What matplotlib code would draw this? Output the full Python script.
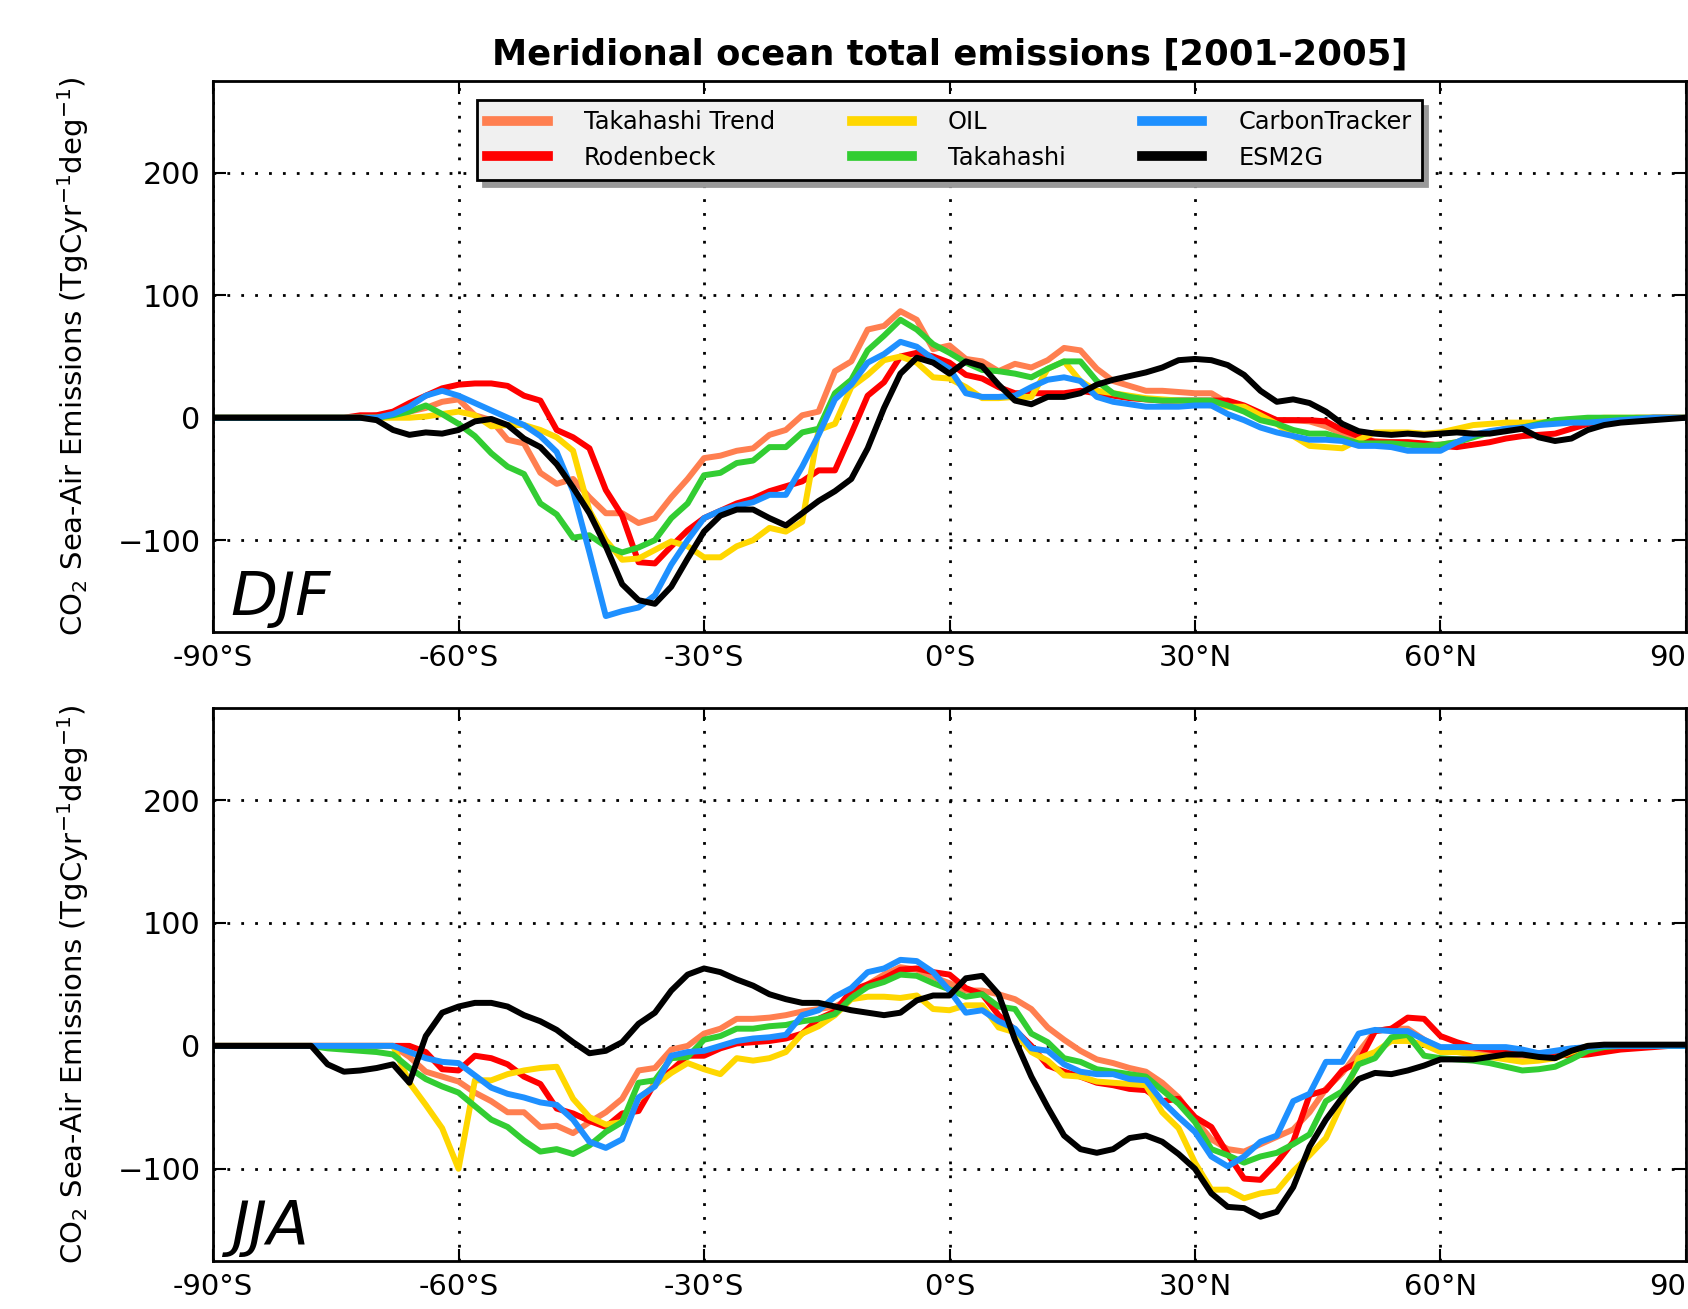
import numpy as np
import matplotlib
matplotlib.use("Agg")
import matplotlib.pyplot as plt

# latitude grid shared by all series (2 degree bins)
lat = np.arange(-90, 91, 2)

# DJF emissions (TgC/yr/deg)
djf_tak_trend = [
    0, 0, 0, 0, 0, 0, 0, 0, 0, 0,
    2, 3, 5, 8, 13, 15, 2, -2, -18, -21,
    -45, -54, -50, -65, -78, -78, -86, -82, -65, -50,
    -33, -31, -27, -25, -14, -10, 2, 5, 38, 46,
    72, 75, 87, 80, 56, 59, 48, 46, 38, 44,
    41, 47, 57, 55, 40, 30, 26, 22, 22, 21,
    20, 20, 12, 6, 2, -2, -2, -3, -7, -13,
    -17, -19, -20, -20, -22, -22, -20, -15, -12, -9,
    -7, -5, -4, -3, -2, -1, -1, 0, 0, 0,
    0]
djf_rodenbeck = [
    0, 0, 0, 0, 0, 0, 0, 0, 0, 2,
    2, 5, 12, 18, 24, 27, 28, 28, 26, 18,
    14, -10, -16, -25, -59, -80, -118, -119, -105, -92,
    -82, -76, -70, -66, -60, -56, -52, -43, -43, -13,
    18, 29, 50, 53, 50, 45, 35, 32, 25, 20,
    20, 20, 20, 22, 20, 18, 16, 15, 14, 14,
    14, 14, 14, 10, 4, -2, -2, -2, -3, -10,
    -15, -20, -20, -20, -21, -23, -24, -22, -20, -17,
    -15, -14, -13, -9, -5, -3, -2, -1, 0, 0,
    0]
djf_oil = [
    0, 0, 0, 0, 0, 0, 0, 0, 0, 0,
    0, 0, 0, 1, 3, 5, 2, -7, -6, -6,
    -10, -16, -27, -76, -100, -116, -115, -108, -101, -105,
    -114, -114, -105, -100, -90, -93, -85, -10, -5, 25,
    35, 47, 50, 45, 33, 32, 25, 16, 16, 17,
    17, 40, 46, 30, 22, 20, 18, 16, 15, 14,
    12, 10, 9, 9, 2, -5, -15, -23, -24, -25,
    -18, -12, -12, -12, -13, -12, -9, -6, -5, -4,
    -4, -4, -3, -1, -1, 0, 0, 0, 0, 0,
    0]
djf_takahashi = [
    0, 0, 0, 0, 0, 0, 0, 0, 0, 0,
    0, 2, 5, 10, 3, -5, -15, -29, -40, -46,
    -70, -79, -98, -96, -105, -110, -106, -100, -82, -70,
    -47, -45, -37, -35, -24, -24, -12, -9, 20, 31,
    55, 67, 80, 72, 60, 53, 45, 39, 38, 36,
    33, 40, 46, 46, 30, 20, 17, 15, 14, 14,
    14, 14, 10, 5, -2, -5, -10, -13, -13, -17,
    -21, -21, -21, -22, -23, -22, -20, -16, -12, -10,
    -8, -5, -2, -1, 0, 0, 0, 0, 0, 0,
    0]
djf_carbontracker = [
    0, 0, 0, 0, 0, 0, 0, 0, 0, 0,
    0, 3, 9, 18, 22, 18, 12, 6, 0, -6,
    -15, -28, -60, -110, -162, -158, -155, -145, -120, -100,
    -82, -76, -72, -69, -63, -63, -40, -14, 15, 27,
    45, 52, 62, 58, 48, 40, 20, 17, 17, 18,
    25, 31, 33, 30, 17, 13, 11, 9, 9, 9,
    10, 10, 3, -2, -8, -12, -15, -18, -18, -19,
    -23, -23, -24, -27, -27, -27, -20, -14, -11, -9,
    -8, -6, -5, -4, -4, -3, -2, -1, 0, 0,
    0]
djf_esm2g = [
    0, 0, 0, 0, 0, 0, 0, 0, 0, 0,
    -2, -10, -14, -12, -13, -10, -3, -1, -6, -17,
    -24, -38, -57, -78, -105, -136, -149, -152, -138, -115,
    -93, -80, -75, -75, -82, -88, -78, -68, -60, -50,
    -25, 8, 36, 49, 45, 36, 46, 42, 27, 14,
    11, 17, 17, 20, 27, 31, 34, 37, 41, 47,
    48, 47, 43, 35, 22, 13, 15, 12, 5, -5,
    -11, -13, -14, -13, -14, -13, -12, -13, -13, -11,
    -9, -16, -19, -17, -10, -6, -4, -3, -2, -1,
    0]

# JJA emissions (TgC/yr/deg)
jja_tak_trend = [
    0, 0, 0, 0, 0, 0, 0, 0, 0, 0,
    0, 0, -9, -21, -25, -29, -38, -45, -54, -54,
    -66, -65, -71, -62, -54, -43, -20, -18, -3, 0,
    10, 14, 22, 22, 23, 25, 28, 30, 32, 39,
    50, 58, 64, 62, 56, 51, 45, 45, 42, 38,
    30, 15, 5, -4, -11, -14, -18, -21, -30, -42,
    -60, -76, -84, -86, -80, -74, -68, -54, -35, -22,
    -5, 12, 14, 14, 5, -2, -4, -5, -6, -8,
    -8, -9, -8, -6, -3, -1, 0, 0, 0, 0,
    0]
jja_rodenbeck = [
    0, 0, 0, 0, 0, 0, 0, 0, 0, 0,
    0, 0, 0, -5, -19, -20, -8, -10, -15, -25,
    -31, -51, -55, -61, -66, -55, -53, -30, -20, -8,
    -8, -2, 2, 3, 4, 6, 10, 22, 28, 45,
    50, 55, 62, 63, 60, 58, 47, 42, 25, 13,
    0, -16, -21, -25, -30, -32, -35, -36, -45, -43,
    -58, -66, -88, -108, -109, -95, -78, -40, -36, -20,
    -13, 12, 14, 23, 22, 8, 3, -1, -3, -5,
    -6, -6, -7, -8, -7, -5, -3, -2, -1, 0,
    0]
jja_oil = [
    0, 0, 0, 0, 0, 0, 0, 0, 0, 0,
    0, 0, -30, -48, -67, -100, -28, -28, -23, -20,
    -18, -17, -43, -58, -64, -62, -43, -32, -22, -14,
    -19, -23, -10, -12, -10, -5, 10, 16, 25, 38,
    40, 40, 39, 41, 30, 29, 33, 33, 15, 11,
    -5, -12, -24, -25, -29, -30, -31, -32, -54, -67,
    -95, -117, -117, -124, -120, -118, -102, -89, -75, -46,
    -10, -5, 4, 4, 1, -5, -5, -7, -9, -11,
    -13, -12, -10, -5, 0, 0, 0, 0, 0, 0,
    0]
jja_takahashi = [
    0, 0, 0, 0, 0, 0, 0, -2, -3, -4,
    -5, -7, -18, -27, -33, -38, -49, -60, -66, -77,
    -86, -84, -88, -81, -70, -62, -30, -28, -10, -9,
    5, 8, 14, 14, 16, 17, 20, 22, 26, 39,
    48, 52, 58, 57, 51, 46, 40, 42, 32, 30,
    10, 3, -10, -13, -19, -21, -23, -25, -36, -47,
    -62, -84, -89, -95, -90, -87, -80, -72, -45, -37,
    -15, -10, 7, 9, -8, -10, -11, -12, -14, -17,
    -20, -19, -17, -11, -4, -1, 0, 0, 0, 0,
    0]
jja_carbontracker = [
    0, 0, 0, 0, 0, 0, 0, 0, 0, 0,
    0, 0, -5, -10, -13, -14, -24, -34, -39, -42,
    -46, -48, -60, -78, -83, -76, -42, -33, -8, -5,
    -4, 0, 4, 6, 7, 9, 25, 29, 40, 47,
    60, 63, 70, 69, 60, 45, 27, 29, 20, 14,
    -2, -4, -15, -21, -23, -23, -27, -28, -45, -58,
    -70, -90, -98, -90, -78, -73, -45, -39, -13, -13,
    10, 13, 12, 12, 5, -1, -1, -1, -1, -1,
    -3, -6, -4, -2, -1, 0, 0, 0, 0, 0,
    0]
jja_esm2g = [
    0, 0, 0, 0, 0, 0, 0, -15, -21, -20,
    -18, -15, -30, 8, 27, 32, 35, 35, 32, 25,
    20, 13, 3, -6, -4, 3, 18, 27, 45, 58,
    63, 60, 54, 49, 42, 38, 35, 35, 32, 29,
    27, 25, 27, 37, 41, 41, 55, 57, 42, 5,
    -25, -50, -73, -84, -87, -84, -75, -73, -78, -88,
    -100, -120, -131, -132, -139, -135, -115, -82, -60, -42,
    -27, -22, -23, -20, -16, -11, -11, -11, -9, -7,
    -7, -9, -10, -4, 0, 1, 1, 1, 1, 1,
    1]

names = ["Takahashi Trend", "Rodenbeck", "OIL", "Takahashi", "CarbonTracker", "ESM2G"]
colors = ["#FF7F50", "#FF0000", "#FFD700", "#32CD32", "#1E90FF", "#000000"]

seasons = [
    ("DJF", [djf_tak_trend, djf_rodenbeck, djf_oil, djf_takahashi, djf_carbontracker, djf_esm2g]),
    ("JJA", [jja_tak_trend, jja_rodenbeck, jja_oil, jja_takahashi, jja_carbontracker, jja_esm2g]),
]

xticks = [-90, -60, -30, 0, 30, 60, 90]
xticklabels = ["-90°S", "-60°S", "-30°S", "0°S", "30°N", "60°N", "90°N"]

fig = plt.figure(figsize=(16.88, 13.09), dpi=100)
axes = [fig.add_axes([0.1262, 0.5172, 0.8726, 0.4209]),
        fig.add_axes([0.1262, 0.0367, 0.8726, 0.4225])]

for ax, (season, series) in zip(axes, seasons):
    for name, col, vals in zip(names, colors, series):
        ax.plot(lat, vals, color=col, lw=4.3, label=name)
    ax.set_xlim(-90, 90)
    ax.set_ylim(-175, 275)
    ax.set_xticks(xticks)
    ax.set_xticklabels(xticklabels)
    ax.set_yticks([-100, 0, 100, 200])
    ax.tick_params(direction="in", length=9, width=1.5, top=True, right=True,
                   labelsize=21, pad=9)
    ax.tick_params(axis="y", labelsize=21.8)
    ax.grid(True, color="black", linestyle=(0, (1, 4)), linewidth=2)
    for sp in ax.spines.values():
        sp.set_linewidth(2)
    ax.set_ylabel(r"CO$_2$ Sea-Air Emissions (TgCyr$^{-1}$deg$^{-1}$)", fontsize=21, labelpad=19)
    ax.text(0.012, 0.03, season, transform=ax.transAxes, fontsize=44,
            style="italic", ha="left", va="baseline")

axes[0].set_title("Meridional ocean total emissions [2001-2005]", fontsize=25.5,
                  fontweight="bold", pad=12)

leg = axes[0].legend(loc="upper center", ncol=3, fontsize=17.3, frameon=True,
                     fancybox=False, shadow={"ox": 4, "oy": -4, "color": "0.6", "alpha": 1},
                     handlelength=2.5, handletextpad=1.5, columnspacing=3.2,
                     labelspacing=0.48, borderpad=0.42, borderaxespad=0.8)
leg.get_frame().set_facecolor("#f0f0f0")
leg.get_frame().set_edgecolor("black")
leg.get_frame().set_linewidth(2)
leg.get_frame().set_alpha(1)
for line in leg.get_lines():
    line.set_linewidth(7)

fig.savefig("out.png", dpi=100)
